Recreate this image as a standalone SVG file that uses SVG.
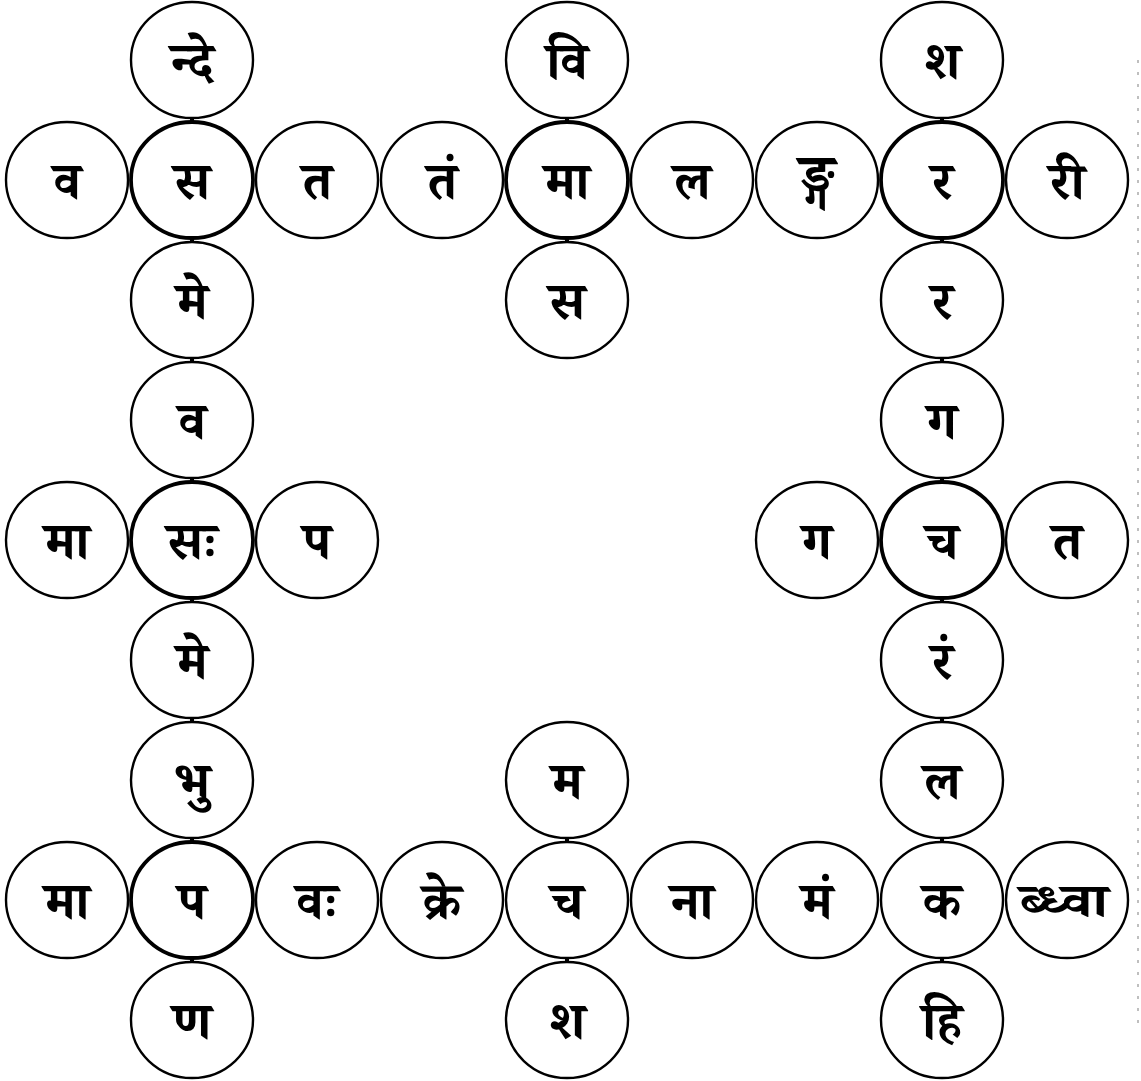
<svg xmlns="http://www.w3.org/2000/svg" width="1141" height="1081" viewBox="0 0 1141 1081">
<style>
.c{fill:#fff;stroke:#000;stroke-width:2.4}
.h{fill:#fff;stroke:#000;stroke-width:3.8}
.t{font-family:"Noto Serif Devanagari","Noto Sans Devanagari","Lohit Devanagari","Mangal","Noto Sans",sans-serif;font-size:52px;font-weight:bold;text-anchor:middle;fill:#000}
.k{stroke:#000;stroke-width:4}
.s{stroke:#aaa;stroke-width:1.5;stroke-dasharray:3 9;fill:none}
</style>
<rect width="1141" height="1081" fill="#fff"/>
<path class="s" d="M1138 60V1030"/>
<g id="connectors">
<line class="k" x1="192" y1="116" x2="192" y2="124"/>
<line class="k" x1="192" y1="236" x2="192" y2="244"/>
<line class="k" x1="192" y1="356" x2="192" y2="364"/>
<line class="k" x1="192" y1="476" x2="192" y2="484"/>
<line class="k" x1="192" y1="596" x2="192" y2="604"/>
<line class="k" x1="192" y1="716" x2="192" y2="724"/>
<line class="k" x1="192" y1="836" x2="192" y2="844"/>
<line class="k" x1="192" y1="956" x2="192" y2="964"/>
<line class="k" x1="567" y1="116" x2="567" y2="124"/>
<line class="k" x1="567" y1="236" x2="567" y2="244"/>
<line class="k" x1="567" y1="836" x2="567" y2="844"/>
<line class="k" x1="567" y1="956" x2="567" y2="964"/>
<line class="k" x1="942" y1="116" x2="942" y2="124"/>
<line class="k" x1="942" y1="236" x2="942" y2="244"/>
<line class="k" x1="942" y1="356" x2="942" y2="364"/>
<line class="k" x1="942" y1="476" x2="942" y2="484"/>
<line class="k" x1="942" y1="596" x2="942" y2="604"/>
<line class="k" x1="942" y1="716" x2="942" y2="724"/>
<line class="k" x1="942" y1="836" x2="942" y2="844"/>
<line class="k" x1="942" y1="956" x2="942" y2="964"/>
</g>
<g id="n0-1"><ellipse class="c" cx="192" cy="60" rx="61" ry="58"/><text class="t" x="192" y="79">न्दे</text></g>
<g id="n0-4"><ellipse class="c" cx="567" cy="60" rx="61" ry="58"/><text class="t" x="567" y="79">वि</text></g>
<g id="n0-7"><ellipse class="c" cx="942" cy="60" rx="61" ry="58"/><text class="t" x="942" y="79">श</text></g>
<g id="n1-0"><ellipse class="c" cx="67" cy="180" rx="61" ry="58"/><text class="t" x="67" y="199">व</text></g>
<g id="n1-1"><ellipse class="h" cx="192" cy="180" rx="61" ry="58"/><text class="t" x="192" y="199">स</text></g>
<g id="n1-2"><ellipse class="c" cx="317" cy="180" rx="61" ry="58"/><text class="t" x="317" y="199">त</text></g>
<g id="n1-3"><ellipse class="c" cx="442" cy="180" rx="61" ry="58"/><text class="t" x="442" y="199">तं</text></g>
<g id="n1-4"><ellipse class="h" cx="567" cy="180" rx="61" ry="58"/><text class="t" x="567" y="199">मा</text></g>
<g id="n1-5"><ellipse class="c" cx="692" cy="180" rx="61" ry="58"/><text class="t" x="692" y="199">ल</text></g>
<g id="n1-6"><ellipse class="c" cx="817" cy="180" rx="61" ry="58"/><text class="t" x="817" y="196" style="font-size:60px">ङ्ग</text></g>
<g id="n1-7"><ellipse class="h" cx="942" cy="180" rx="61" ry="58"/><text class="t" x="942" y="199">र</text></g>
<g id="n1-8"><ellipse class="c" cx="1067" cy="180" rx="61" ry="58"/><text class="t" x="1067" y="199">री</text></g>
<g id="n2-1"><ellipse class="c" cx="192" cy="300" rx="61" ry="58"/><text class="t" x="192" y="319">मे</text></g>
<g id="n2-4"><ellipse class="c" cx="567" cy="300" rx="61" ry="58"/><text class="t" x="567" y="319">स</text></g>
<g id="n2-7"><ellipse class="c" cx="942" cy="300" rx="61" ry="58"/><text class="t" x="942" y="319">र</text></g>
<g id="n3-1"><ellipse class="c" cx="192" cy="420" rx="61" ry="58"/><text class="t" x="192" y="439">व</text></g>
<g id="n3-7"><ellipse class="c" cx="942" cy="420" rx="61" ry="58"/><text class="t" x="942" y="439">ग</text></g>
<g id="n4-0"><ellipse class="c" cx="67" cy="540" rx="61" ry="58"/><text class="t" x="67" y="559">मा</text></g>
<g id="n4-1"><ellipse class="h" cx="192" cy="540" rx="61" ry="58"/><text class="t" x="192" y="559">सः</text></g>
<g id="n4-2"><ellipse class="c" cx="317" cy="540" rx="61" ry="58"/><text class="t" x="317" y="559">प</text></g>
<g id="n4-6"><ellipse class="c" cx="817" cy="540" rx="61" ry="58"/><text class="t" x="817" y="559">ग</text></g>
<g id="n4-7"><ellipse class="h" cx="942" cy="540" rx="61" ry="58"/><text class="t" x="942" y="559">च</text></g>
<g id="n4-8"><ellipse class="c" cx="1067" cy="540" rx="61" ry="58"/><text class="t" x="1067" y="559">त</text></g>
<g id="n5-1"><ellipse class="c" cx="192" cy="660" rx="61" ry="58"/><text class="t" x="192" y="679">मे</text></g>
<g id="n5-7"><ellipse class="c" cx="942" cy="660" rx="61" ry="58"/><text class="t" x="942" y="679">रं</text></g>
<g id="n6-1"><ellipse class="c" cx="192" cy="780" rx="61" ry="58"/><text class="t" x="192" y="799">भु</text></g>
<g id="n6-4"><ellipse class="c" cx="567" cy="780" rx="61" ry="58"/><text class="t" x="567" y="799">म</text></g>
<g id="n6-7"><ellipse class="c" cx="942" cy="780" rx="61" ry="58"/><text class="t" x="942" y="799">ल</text></g>
<g id="n7-0"><ellipse class="c" cx="67" cy="900" rx="61" ry="58"/><text class="t" x="67" y="919">मा</text></g>
<g id="n7-1"><ellipse class="h" cx="192" cy="900" rx="61" ry="58"/><text class="t" x="192" y="919">प</text></g>
<g id="n7-2"><ellipse class="c" cx="317" cy="900" rx="61" ry="58"/><text class="t" x="317" y="919">वः</text></g>
<g id="n7-3"><ellipse class="c" cx="442" cy="900" rx="61" ry="58"/><text class="t" x="442" y="919">क्रे</text></g>
<g id="n7-4"><ellipse class="c" cx="567" cy="900" rx="61" ry="58"/><text class="t" x="567" y="919">च</text></g>
<g id="n7-5"><ellipse class="c" cx="692" cy="900" rx="61" ry="58"/><text class="t" x="692" y="919">ना</text></g>
<g id="n7-6"><ellipse class="c" cx="817" cy="900" rx="61" ry="58"/><text class="t" x="817" y="919">मं</text></g>
<g id="n7-7"><ellipse class="c" cx="942" cy="900" rx="61" ry="58"/><text class="t" x="942" y="919">क</text></g>
<g id="n7-8"><ellipse class="c" cx="1067" cy="900" rx="61" ry="58"/><text class="t" x="1064" y="917" style="font-size:48px" textLength="88" lengthAdjust="spacingAndGlyphs">ब्ध्वा</text></g>
<g id="n8-1"><ellipse class="c" cx="192" cy="1020" rx="61" ry="58"/><text class="t" x="192" y="1039">ण</text></g>
<g id="n8-4"><ellipse class="c" cx="567" cy="1020" rx="61" ry="58"/><text class="t" x="567" y="1039">श</text></g>
<g id="n8-7"><ellipse class="c" cx="942" cy="1020" rx="61" ry="58"/><text class="t" x="942" y="1039">हि</text></g>
</svg>
